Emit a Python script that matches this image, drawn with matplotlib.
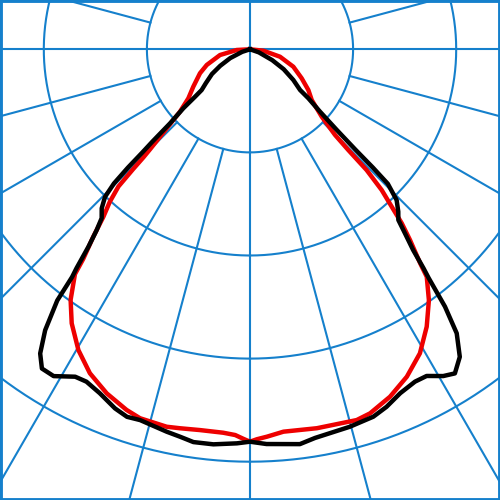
import numpy as np
import matplotlib
matplotlib.use("Agg")
import matplotlib.pyplot as plt
from matplotlib.patches import Rectangle

# Polar intensity diagram, 0 deg = straight down (nadir)
GRID_BLUE = "#1580cc"
RING_VALUES = [100, 200, 300, 400, 500]
SPOKE_STEP = 15
R_MAX = 540

# black curve, left half (angle from nadir, intensity)
black_left_ang = [90, 72, 66, 61, 57, 52.5, 49.9, 49.2, 48.5, 47.2, 46.6, 46.2, 45.9, 45.4,
                  44.5, 43.0, 41.3, 40.3, 39.3, 38.4, 38.0, 37.5, 36.1, 34.6, 33.1, 31.0,
                  28.1, 26.2, 23.6, 20.6, 18.5, 16.5, 12.3, 10.2, 8.2, 5.3, 1.9, 0]
black_left_val = [0, 8, 21, 33, 44, 54, 61.3, 70.4, 86.3, 105.7, 130, 145.5, 164.9, 185.3,
                  200.6, 210.9, 218, 229.9, 247.3, 270.9, 280.3, 307.1, 337.2, 358.4, 369.6, 369.8,
                  360, 359.3, 364, 372.1, 375.9, 375.1, 379.6, 381.9, 384.9, 384.8, 382.4, 380.6]

# black curve, right half
black_right_ang = [90, 71, 64, 59.4, 54.7, 50.9, 50.0, 48.3, 47.1, 46.4, 46.1, 45.7, 44.2,
                   42.4, 41.0, 40.1, 39.1, 38.4, 38.0, 37.15, 36.05, 34.3, 32.3, 30.6, 28.4,
                   26.4, 23.6, 20.9, 18.55, 14.8, 9.5, 7.2, 2.4, 0]
black_right_val = [0, 9, 24, 38, 51.5, 62.6, 73.9, 91, 114.8, 141.6, 165.2, 186.8, 204,
                   213.3, 219.3, 233.4, 250.9, 270.9, 281.3, 313.2, 340.7, 361.1, 371.9, 368.2, 360.2,
                   359.9, 364, 371.2, 375.9, 378.7, 382.2, 386, 383.2, 380.6]

# red curve, left half
red_left_ang = [90, 87, 79.2, 70.1, 64.4, 56.6, 51.5, 48.3, 46.5, 45.0, 44.6, 44.3, 43.8, 42.6,
                41.2, 39.9, 38.5, 37.9, 35.6, 33.05, 29.7, 26.3, 22.6, 18.9, 16.6, 12.45,
                10.5, 7.5, 4.0, 2.2, 1.0, 0]
red_left_val = [0, 12.9, 29.6, 44.6, 53.8, 65.9, 76.4, 91, 111.3, 136.8, 147.4, 162, 184.3, 200.8,
                215.9, 237, 260, 276.4, 298.9, 317.1, 335.9, 350.5, 361.5, 369.7, 373.4, 374.9,
                373.8, 372.5, 372.8, 374.4, 377.8, 380.6]

# red curve, right half
red_right_ang = [90, 84, 76.1, 68.1, 60.7, 55.1, 50.6, 46.8, 44.8, 44.3, 44.0, 43.1, 42.0, 41.1,
                 40.0, 38.5, 37.85, 35.5, 32.5, 29.2, 25.6, 21.95, 18.25, 16.05, 10.0, 5.0,
                 2.5, 1.0, 0]
red_right_val = [0, 13, 30, 45.3, 57.5, 69, 77.5, 95.4, 117.1, 136.3, 162.9, 186.9, 205.4, 223.9,
                 241.4, 265.1, 279.4, 298.8, 319, 337.8, 352.1, 363.3, 371.8, 374.2, 373.2, 372.3,
                 376.1, 378.3, 380.6]


def full_curve(left_ang, left_val, right_ang, right_val):
    # left side runs at negative angles, right side at positive ones
    ang = np.concatenate([-np.array(left_ang), np.array(right_ang[::-1])])
    val = np.concatenate([np.array(left_val), np.array(right_val[::-1])])
    return np.radians(ang), val


def draw_grid(ax):
    circ = np.linspace(0, 2 * np.pi, 721)
    for r in RING_VALUES:
        ax.plot(circ, np.full_like(circ, r), color=GRID_BLUE, lw=1.5, zorder=1)
    for deg in range(0, 360, SPOKE_STEP):
        r0 = 0 if deg % 90 == 0 else RING_VALUES[0]
        ax.plot([np.radians(deg)] * 2, [r0, R_MAX], color=GRID_BLUE, lw=1.5, zorder=1)


fig = plt.figure(figsize=(5, 5), dpi=100)
# pole sits near the top edge, so the polar axes is much larger than the figure
cx, cy = 0.5, 1 - 49.3 / 500
half = R_MAX * 1.031 / 500
ax = fig.add_axes([cx - half, cy - half, 2 * half, 2 * half], projection="polar")
ax.set_theta_zero_location("S")
ax.set_theta_direction(1)
ax.set_ylim(0, R_MAX)
ax.grid(False)
ax.set_xticks([])
ax.set_yticks([])
ax.spines["polar"].set_visible(False)

draw_grid(ax)

th, rv = full_curve(red_left_ang, red_left_val, red_right_ang, red_right_val)
ax.plot(th, rv, color="#ee0000", lw=3.2, zorder=3, solid_joinstyle="round")
th, rv = full_curve(black_left_ang, black_left_val, black_right_ang, black_right_val)
ax.plot(th, rv, color="black", lw=3.2, zorder=4, solid_joinstyle="round")
ax.set_ylim(0, R_MAX)

fig.patches.append(Rectangle((0, 0), 1, 1, transform=fig.transFigure, fill=False,
                             edgecolor=GRID_BLUE, lw=3.5))

fig.savefig("out.png", dpi=100)
